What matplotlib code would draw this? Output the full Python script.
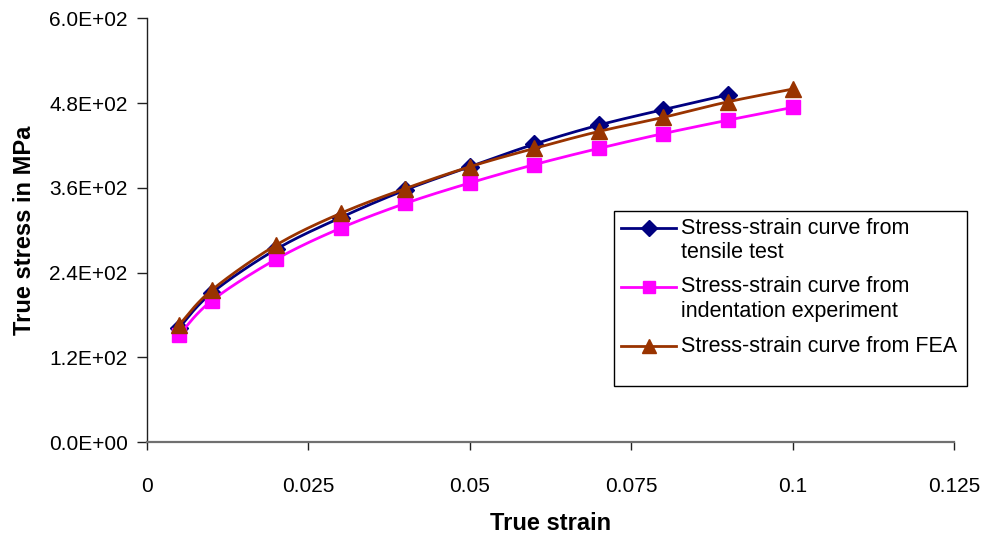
import numpy as np
import matplotlib
matplotlib.use("Agg")
import matplotlib.pyplot as plt
from matplotlib.lines import Line2D
from matplotlib.patches import Rectangle
from matplotlib.ticker import FuncFormatter

# Strain points and true stress (MPa) for each method
strain_tensile = [0.005, 0.01, 0.02, 0.03, 0.04, 0.05, 0.06, 0.07, 0.08, 0.09]
stress_tensile = [162, 211, 273, 318, 357, 390, 422, 449, 471, 492]

strain_indent = [0.005, 0.01, 0.02, 0.03, 0.04, 0.05, 0.06, 0.07, 0.08, 0.09, 0.1]
stress_indent = [152, 200, 259, 303, 338, 367, 393, 416, 437, 456, 474]

strain_fea = [0.005, 0.01, 0.02, 0.03, 0.04, 0.05, 0.06, 0.07, 0.08, 0.09, 0.1]
stress_fea = [166, 215, 279, 324, 359, 390, 416, 440, 460, 482, 500]

series_labels = [
    ["Stress-strain curve from", "tensile test"],
    ["Stress-strain curve from", "indentation experiment"],
    ["Stress-strain curve from FEA"],
]
x_ticks = [0, 0.025, 0.05, 0.075, 0.1, 0.125]
x_tick_labels = ["0", "0.025", "0.05", "0.075", "0.1", "0.125"]
y_ticks = [0, 120, 240, 360, 480, 600]

FONT = ["Liberation Sans", "DejaVu Sans"]
plt.rcParams["font.family"] = FONT


def smooth(xs, ys, n=30):
    """Bezier smoothing through the points (control points at +/- 1/6 of neighbour chord)."""
    p = np.column_stack([xs, ys]).astype(float)
    ext = np.vstack([p[0], p, p[-1]])
    out = [p[0]]
    t = np.linspace(0, 1, n)[1:, None]
    for i in range(len(p) - 1):
        p0, p1 = ext[i + 1], ext[i + 2]
        c1 = p0 + (ext[i + 2] - ext[i]) / 6.0
        c2 = p1 - (ext[i + 3] - ext[i + 1]) / 6.0
        seg = ((1 - t) ** 3) * p0 + 3 * ((1 - t) ** 2) * t * c1 + 3 * (1 - t) * t ** 2 * c2 + t ** 3 * p1
        out.extend(seg)
    out = np.array(out)
    return out[:, 0], out[:, 1]


fig = plt.figure(figsize=(9.82, 5.37), dpi=100)
W, H = 982, 537
ax = fig.add_axes([147 / W, 95 / H, 807 / W, 423.5 / H])

styles = [
    (strain_tensile, stress_tensile, "#000080", "D", 9, 2),
    (strain_indent, stress_indent, "#FF00FF", "s", 9.5, 3),
    (strain_fea, stress_fea, "#993300", "^", 11, 4),
]
for xs, ys, col, mk, ms, z in styles:
    sx, sy = smooth(xs, ys)
    ax.plot(sx, sy, color=col, lw=2.0, zorder=z, solid_capstyle="round")
    ax.plot(xs, ys, linestyle="none", marker=mk, ms=ms, color=col,
            markeredgecolor=col, zorder=z + 0.5, clip_on=False)

ax.set_xlim(0, 0.125)
ax.set_ylim(0, 600)
ax.set_xticks(x_ticks)
ax.set_xticklabels(x_tick_labels)
ax.set_yticks(y_ticks)
ax.yaxis.set_major_formatter(FuncFormatter(lambda v, _: f"{v:.1E}"))

for side in ("top", "right"):
    ax.spines[side].set_visible(False)
ax.spines["left"].set_color("#202020")
ax.spines["left"].set_linewidth(1.0)
ax.spines["bottom"].set_color("#707070")
ax.spines["bottom"].set_linewidth(1.6)
ax.tick_params(axis="x", direction="out", length=6, width=1, color="#202020",
               labelsize=15, pad=19)
ax.tick_params(axis="y", direction="out", length=7, width=1, color="#202020",
               labelsize=15, pad=7)

ax.set_xlabel("True strain", fontsize=17, fontweight="bold")
ax.set_ylabel("True stress in MPa", fontsize=17, fontweight="bold")
ax.xaxis.set_label_coords((551 - 147) / 807, (442 - 523) / 423.5)
ax.xaxis.label.set_va("center")
ax.yaxis.set_label_coords((24 - 147) / 807, 0.5)
ax.yaxis.label.set_va("center")

# Legend box with handles and wrapped labels
def fx(px):
    return px / W


def fy(py):
    return 1 - py / H


fig.add_artist(Rectangle((fx(614), fy(386)), fx(967) - fx(614), (386 - 211) / H,
                         transform=fig.transFigure, facecolor="white",
                         edgecolor="black", lw=1.0, zorder=10))
rows = [(228, 253), (287, 312), (346,)]
for (xs, ys, col, mk, ms, z), lab, ry in zip(styles, series_labels, rows):
    fig.add_artist(Line2D([fx(621), fx(676)], [fy(ry[0]), fy(ry[0])],
                          transform=fig.transFigure, color=col, lw=2.0, zorder=11))
    fig.add_artist(Line2D([fx(648.5)], [fy(ry[0])], transform=fig.transFigure,
                          marker=mk, ms=ms * 0.95, color=col, linestyle="none", zorder=12))
    for line, yy in zip(lab, ry):
        fig.text(fx(681), fy(yy), line, fontsize=15.5, va="center", ha="left", zorder=12)

fig.savefig("out.png", dpi=100)
